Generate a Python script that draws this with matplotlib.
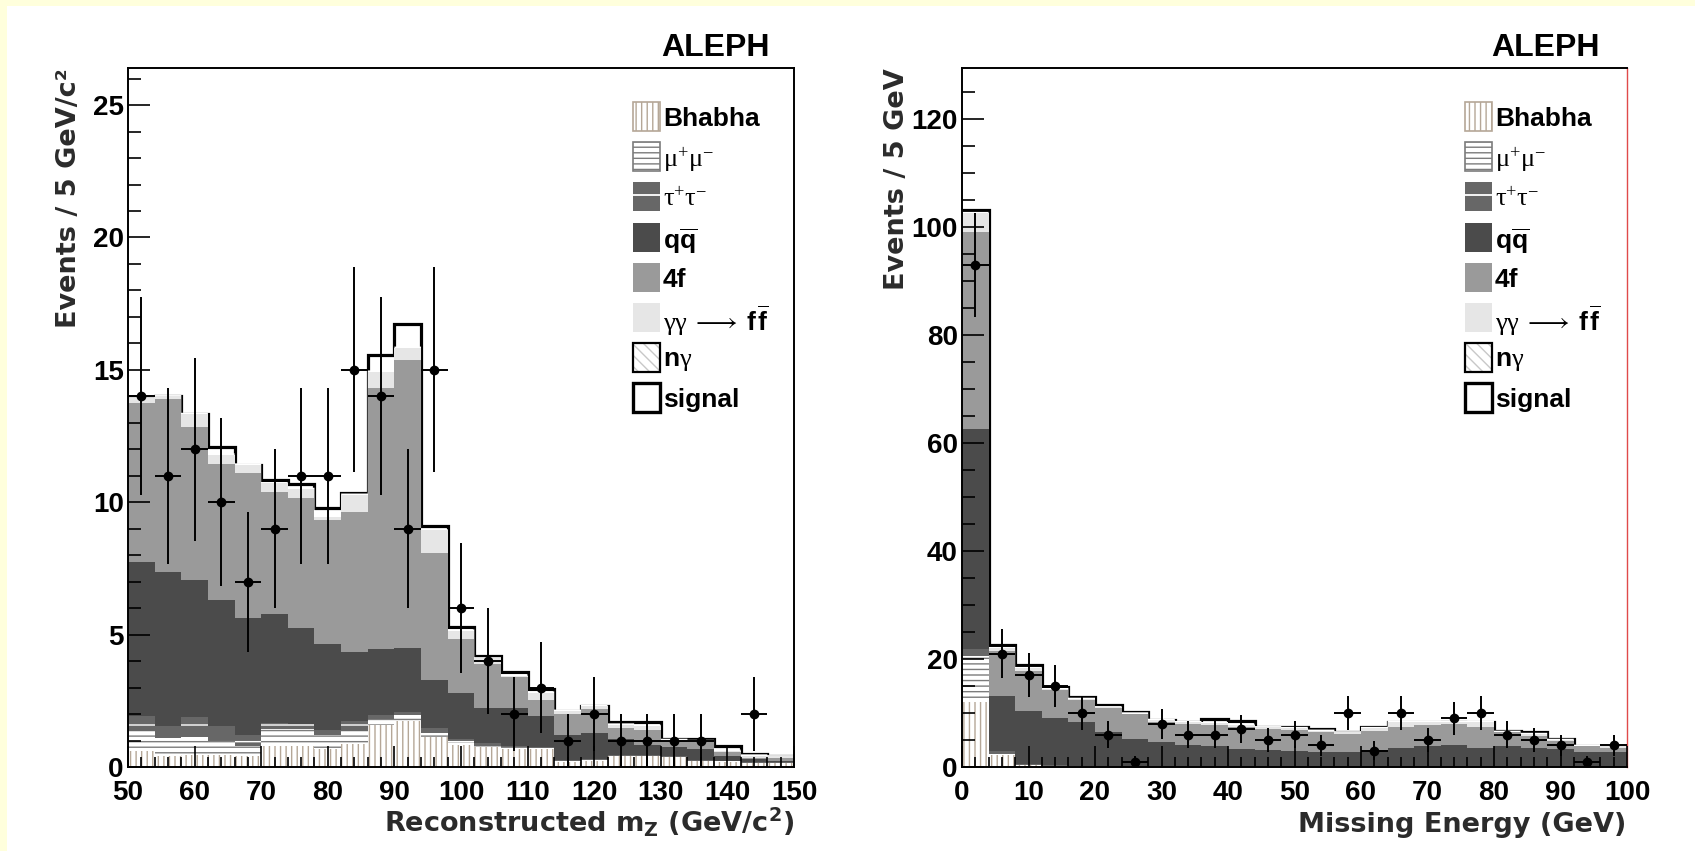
import numpy as np
import matplotlib
matplotlib.use("Agg")
import matplotlib.pyplot as plt
from matplotlib.patches import Rectangle, Polygon
from matplotlib.lines import Line2D
from matplotlib.ticker import MultipleLocator

plt.rcParams['font.family'] = ['Liberation Sans', 'DejaVu Sans']
plt.rcParams['mathtext.fontset'] = 'custom'
plt.rcParams['mathtext.rm'] = 'Liberation Serif:weight=normal'
plt.rcParams['mathtext.it'] = 'Liberation Serif:italic'
plt.rcParams['mathtext.bf'] = 'DejaVu Sans:bold'
plt.rcParams['mathtext.sf'] = 'Liberation Sans:bold'
plt.rcParams['mathtext.default'] = 'bf'
plt.rcParams['hatch.linewidth'] = 1.0

# ---------------- reconstructed Z mass (4 GeV bins, 50-150) ----------------
mz_edges = np.arange(50, 151, 4)
mz_data = [14, 11, 12, 10, 7, 9, 11, 11, 15, 14, 9, 15, 6, 4, 2, 3, 1, 2, 1, 1, 1, 1, 0, 2, 0]
mz_bhabha = [0.60, 0.40, 0.45, 0.45, 0.40, 0.78, 0.78, 0.68, 0.86, 1.58, 1.74, 1.15, 0.83,
             0.74, 0.68, 0.68, 0.18, 0.24, 0.40, 0.40, 0.36, 0.22, 0.20, 0.15, 0.15]
mz_mumu = [0.76, 0.70, 0.70, 0.55, 0.38, 0.65, 0.65, 0.52, 0.49, 0.22, 0.21, 0.15, 0.12,
           0.06, 0.07, 0.04, 0.04, 0.04, 0.03, 0.03, 0.02, 0.02, 0.01, 0.01, 0.01]
mz_tautau = [0.55, 0.45, 0.73, 0.55, 0.44, 0.23, 0.19, 0.20, 0.39, 0.18, 0.11, 0.16, 0.10,
             0.10, 0.05, 0.03, 0.03, 0.02, 0.02, 0.02, 0.02, 0.01, 0.01, 0.01, 0.01]
mz_qq = [5.82, 5.83, 5.20, 4.75, 4.42, 4.10, 3.64, 3.24, 2.60, 2.48, 2.45, 1.84, 1.73,
         1.32, 1.42, 1.19, 0.95, 0.98, 0.60, 0.38, 0.34, 0.43, 0.21, 0.13, 0.07]
mz_4f = [6.02, 6.52, 5.77, 5.16, 5.46, 4.64, 4.90, 4.68, 5.30, 9.86, 10.85, 4.77, 2.05,
         1.68, 1.17, 0.58, 0.80, 0.92, 0.44, 0.57, 0.25, 0.25, 0.12, 0.05, 0.09]
mz_gg = [0.17, 0.10, 0.48, 0.34, 0.32, 0.31, 0.34, 0.13, 0.64, 0.61, 0.47, 0.87, 0.32,
         0.20, 0.06, 0.29, 0.12, 0.10, 0.11, 0.15, 0.03, 0.05, 0.06, 0.08, 0.07]
mz_signal = [0, 0, 0, 0.27, 0, 0.14, 0.18, 0.32, 0.05, 0.64, 0.89, 0.17, 0.15,
             0.10, 0.15, 0.14, 0, 0, 0.10, 0.15, 0.03, 0.07, 0.17, 0.07, 0]

# ---------------- missing energy (4 GeV bins, 0-100) ----------------
em_edges = np.arange(0, 101, 4)
em_data = [93, 21, 17, 15, 10, 6, 1, 8, 6, 6, 7, 5, 6, 4, 10, 3, 10, 5, 9, 10, 6, 5, 4, 1, 4]
em_bhabha = [12.0, 2.2, 0.3, 0.2, 0.1, 0, 0, 0, 0, 0, 0, 0, 0,
             0, 0, 0, 0, 0, 0, 0, 0, 0, 0, 0, 0]
em_mumu = [8.5, 0.3, 0, 0, 0, 0, 0, 0, 0, 0, 0, 0, 0,
           0, 0, 0, 0, 0, 0, 0, 0, 0, 0, 0, 0]
em_tautau = [1.3, 0.4, 0.3, 0.2, 0.1, 0, 0, 0, 0, 0, 0, 0, 0,
             0, 0, 0, 0, 0, 0, 0, 0, 0, 0, 0, 0]
em_qq = [40.8, 10.2, 9.8, 8.7, 8.1, 6.4, 5.2, 4.6, 4.1, 3.8, 3.3, 3.2, 3.0,
         2.8, 2.8, 3.1, 3.5, 3.8, 4.0, 3.6, 3.8, 3.6, 3.3, 2.7, 2.7]
em_4f = [36.5, 8.4, 7.4, 5.2, 4.2, 4.5, 4.6, 3.7, 3.9, 4.0, 4.2, 3.8, 3.9,
         3.6, 3.3, 3.6, 4.0, 4.0, 4.0, 3.9, 2.6, 2.1, 1.6, 1.1, 0.9]
em_gg = [3.5, 0.5, 0.5, 0.1, 0.1, 0.15, 0.1, 0.4, 0.3, 0.3, 0.3, 0.35, 0.3,
         0.3, 0.3, 0.5, 0.9, 0.6, 0.3, 0.9, 0.1, 0.4, 0.1, 0.1, 0.2]
em_signal = [0.5, 0.6, 0.6, 0.35, 0.3, 0.35, 0.2, 0, 0, 0.8, 0.8, 0.15, 0.15,
             0.3, 0.1, 0.3, 0, 0, 0, 0, 0.15, 0.4, 0.2, 0, 0]

legend_labels = ['Bhabha', r'$\mathrm{\mu^{+}\mu^{-}}$', r'$\mathrm{\tau^{+}\tau^{-}}$',
                 r'$\mathsf{q\overline{q}}$', '4f',
                 r'$\mathrm{\gamma\gamma\;\longrightarrow\;}\mathsf{f\,\overline{f}}$',
                 r'$\mathsf{n}\mathrm{\gamma}$', 'signal']
legend_sizes = [19, 19, 19, 19, 19, 19, 19, 19]

# fill styles of the background stack, bottom to top
BHABHA_C = '#b5a797'
stack_styles = [
    dict(facecolor='white', edgecolor=BHABHA_C, hatch='|||'),
    dict(facecolor='white', edgecolor='#7c7c7c', hatch='---'),
    dict(facecolor='#676767', edgecolor='white', hatch='-'),
    dict(facecolor='#4b4b4b', edgecolor='#4b4b4b'),
    dict(facecolor='#9a9a9a', edgecolor='#9a9a9a'),
    dict(facecolor='#e6e6e6', edgecolor='#e6e6e6'),
]

W, H = 1695, 851
fig = plt.figure(figsize=(W / 100, H / 100), dpi=100)
fig.patch.set_facecolor('white')


def frame(x0, y0, x1, y1):
    return [x0 / W, 1 - y1 / H, (x1 - x0) / W, (y1 - y0) / H]


def fx(x):
    return x / W


def fy(y):
    return 1 - y / H


# pale frame around the page
fig.add_artist(Rectangle((0, 0), 7 / W, 1, transform=fig.transFigure,
                         facecolor='#ffffdc', edgecolor='none', zorder=-10))
fig.add_artist(Rectangle((0, 1 - 6 / H), 1, 6 / H, transform=fig.transFigure,
                         facecolor='#ffffdc', edgecolor='none', zorder=-10))

axL = fig.add_axes(frame(128, 68, 794, 767))
axR = fig.add_axes(frame(962, 68, 1627, 767))

SIG_LW = 2.3


def draw_panel(ax, edges, comps, signal, counts, ylim, ymaj, ymin, axh_px):
    edges = np.asarray(edges, dtype=float)
    bottom = np.zeros(len(edges) - 1)
    for values, style in zip(comps, stack_styles):
        top = bottom + np.asarray(values, dtype=float)
        ax.stairs(top, edges, baseline=bottom, fill=True, linewidth=0,
                  zorder=1, **style)
        bottom = top
    total = bottom + np.asarray(signal, dtype=float)

    # signal drawn on top of the background sum; only the part above the stack shows
    sig = ax.stairs(total, edges, baseline=None, fill=False, color='black',
                    linewidth=SIG_LW, zorder=0.9)
    eps = 0.8 * 0.5 * SIG_LW / 72 * 100 * (ylim[1] - ylim[0]) / axh_px
    xs = np.repeat(edges, 2)[1:-1]
    ys = np.repeat(bottom + eps, 2)
    verts = list(zip(xs, ys)) + [(edges[-1] + 5, ylim[1] * 2), (edges[0] - 5, ylim[1] * 2)]
    clip = Polygon(verts, closed=True, transform=ax.transData)
    sig.set_clip_path(clip)

    centers = 0.5 * (edges[:-1] + edges[1:])
    counts = np.asarray(counts, dtype=float)
    m = counts > 0
    ax.errorbar(centers[m], counts[m], xerr=0.5 * (edges[1] - edges[0]),
                yerr=np.sqrt(counts[m]), fmt='o', color='black', ms=6,
                elinewidth=1.4, capsize=0, zorder=5)

    ax.set_xlim(edges[0], edges[-1])
    ax.set_ylim(*ylim)
    ax.xaxis.set_major_locator(MultipleLocator(10))
    ax.xaxis.set_minor_locator(MultipleLocator(2))
    ax.yaxis.set_major_locator(MultipleLocator(ymaj))
    ax.yaxis.set_minor_locator(MultipleLocator(ymin))
    ax.tick_params(axis='both', which='both', direction='in', top=False, right=False,
                   labelsize=20, width=1.2, color='black')
    ax.tick_params(axis='y', which='major', length=15.5, pad=3)
    ax.tick_params(axis='y', which='minor', length=9.5)
    ax.tick_params(axis='x', which='major', length=15, pad=9)
    ax.tick_params(axis='x', which='minor', length=7.5)
    for lab in ax.get_xticklabels() + ax.get_yticklabels():
        lab.set_fontweight('bold')
    for s in ax.spines.values():
        s.set_linewidth(1.4)
        s.set_zorder(2.5)


draw_panel(axL, mz_edges, [mz_bhabha, mz_mumu, mz_tautau, mz_qq, mz_4f, mz_gg],
           mz_signal, mz_data, (0, 26.4), 5, 1, 699)
draw_panel(axR, em_edges, [em_bhabha, em_mumu, em_tautau, em_qq, em_4f, em_gg],
           em_signal, em_data, (0, 129.5), 20, 5, 699)
axR.spines['right'].set_color('#e04a4a')
axR.spines['right'].set_linewidth(1.0)
axR.spines['right'].set_zorder(0.5)

# experiment tags
fig.text(fx(770), fy(56), 'ALEPH', ha='right', va='baseline', fontsize=23,
         fontweight='bold', color='black')
fig.text(fx(1600), fy(56), 'ALEPH', ha='right', va='baseline', fontsize=23,
         fontweight='bold', color='black')

# axis titles
TITLE_KW = dict(fontsize=19.5, fontweight='bold', color='#2b2b2b',
                family=['DejaVu Sans'])
fig.text(fx(69), fy(68), 'Events / 5 GeV/c²', rotation=90, ha='center', va='top', **TITLE_KW)
fig.text(fx(897), fy(68), 'Events / 5 GeV', rotation=90, ha='center', va='top', **TITLE_KW)
fig.text(fx(794), fy(832), r'Reconstructed m$_\mathbf{Z}$ (GeV/c$^\mathbf{2}$)',
         ha='right', va='baseline', **TITLE_KW)
fig.text(fx(1626), fy(832), 'Missing Energy (GeV)', ha='right', va='baseline', **TITLE_KW)


def draw_legend(x0, y_centers):
    bw, bh = 27, 29
    for i, (label, size, yc) in enumerate(zip(legend_labels, legend_sizes, y_centers)):
        x = fx(x0)
        y = fy(yc + bh / 2)
        w = bw / W
        h = bh / H
        kw = dict(transform=fig.transFigure)
        if i == 0:
            fig.add_artist(Rectangle((x, y), w, h, facecolor='white', edgecolor=BHABHA_C,
                                     hatch='|||', linewidth=1.2, **kw))
        elif i == 1:
            fig.add_artist(Rectangle((x, y), w, h, facecolor='white', edgecolor='#7c7c7c',
                                     hatch='---', linewidth=1.2, **kw))
        elif i == 2:
            fig.add_artist(Rectangle((x, y), w, h, facecolor='#676767', edgecolor='none', **kw))
            fig.add_artist(Line2D([x, x + w], [fy(yc - 2), fy(yc - 2)], color='white',
                                  linewidth=1.3, transform=fig.transFigure))
        elif i in (3, 4, 5):
            col = stack_styles[i]['facecolor']
            fig.add_artist(Rectangle((x, y), w, h, facecolor=col, edgecolor='none', **kw))
        elif i == 6:
            fig.add_artist(Rectangle((x, y), w, h, facecolor='white', edgecolor='#c8c8c8',
                                     hatch='\\\\\\', linewidth=0, **kw))
            fig.add_artist(Rectangle((x, y), w, h, facecolor='none', edgecolor='black',
                                     linewidth=1.6, **kw))
        else:
            fig.add_artist(Rectangle((x, y), w, h, facecolor='white', edgecolor='black',
                                     linewidth=2.4, **kw))
        fig.text(fx(x0 + bw + 3), fy(yc), label, ha='left', va='center_baseline',
                 fontsize=size, fontweight='bold', color='black')


leg_y = [116.5, 156.7, 196.9, 237.1, 277.3, 317.5, 357.7, 397.9]
draw_legend(633, leg_y)
draw_legend(1465, leg_y)

fig.savefig('out.png', dpi=100, facecolor=fig.get_facecolor())
